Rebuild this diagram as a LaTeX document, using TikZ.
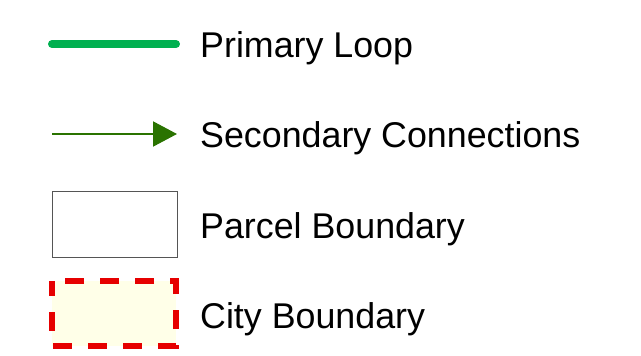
\documentclass[tikz,border=0pt]{standalone}
\usepackage{fontspec}
\setmainfont{Liberation Sans}
\usepackage{xcolor}
\definecolor{loopgreen}{HTML}{00B050}
\definecolor{linkgreen}{HTML}{2A7300}
\definecolor{cityred}{HTML}{E60000}
\definecolor{cityfill}{HTML}{FFFFE8}
\definecolor{parcelgray}{HTML}{555555}
\usepackage{tikz}
\usetikzlibrary{arrows.meta,positioning}

\begin{document}
\begin{tikzpicture}[x=1pt, y=-1pt,
    legendtext/.style={anchor=base west, inner sep=0pt, font=\fontsize{35.8}{43}\selectfont},
    loopline/.style={loopgreen, line width=8pt, line cap=round},
    linkline/.style={linkgreen, line width=2pt, -{Triangle[length=24pt,width=25pt]}},
    parcelbox/.style={draw=parcelgray, fill=white, line width=1pt},
    citybox/.style={draw=cityred, fill=cityfill, line width=6pt, dash pattern=on 19pt off 16pt, dash phase=4pt},
  ]
    \useasboundingbox (0,0) rectangle (641,356);

    \coordinate (loopa) at (52,44);
    \coordinate (loopb) at (176,44);
    \coordinate (linka) at (52,134);
    \coordinate (linkb) at (177,134);

    \draw[loopline] (loopa) -- (loopb);
    \draw[linkline] (linka) -- (linkb);
    \draw[parcelbox] (52,191) rectangle (177,257);
    \draw[citybox] (52,281) rectangle (176,346);

    \node[legendtext] (t1) at (200,57.3) {Primary Loop};
    \node[legendtext] (t2) at (200,147.3) {Secondary Connections};
    \node[legendtext] (t3) at (200,238.3) {Parcel Boundary};
    \node[legendtext] (t4) at (200,328.3) {City Boundary};
  \end{tikzpicture}
\end{document}
